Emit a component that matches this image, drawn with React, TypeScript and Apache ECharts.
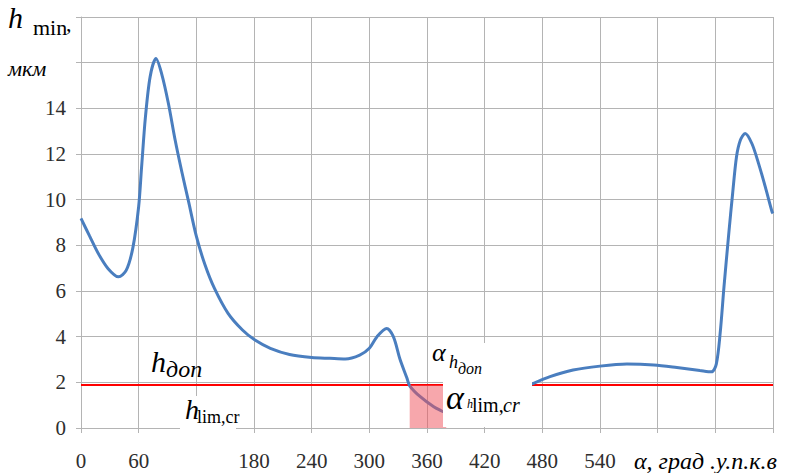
import React, { useEffect, useRef } from "react";
import * as echarts from "echarts";

// Curve before the gap (degrees, µm)
const seg1X = [0, 9, 18, 28, 39, 47, 54, 60, 63, 67, 72, 78, 84, 91, 98, 105, 112, 120, 129, 139, 153, 168, 181, 197, 217, 240, 259, 275, 290, 300, 308, 318, 325, 332, 339, 342, 353, 367, 377];
const seg1Y = [9.18, 8.4, 7.64, 6.99, 6.62, 6.9, 7.9, 9.7, 11.4, 13.6, 15.4, 16.18, 15.5, 14.2, 12.6, 11.2, 9.9, 8.4, 7.15, 6.1, 5.02, 4.29, 3.85, 3.49, 3.22, 3.09, 3.05, 3.02, 3.19, 3.49, 4.0, 4.36, 4.0, 3.0, 2.2, 1.85, 1.37, 0.93, 0.71];
// Curve after the gap
const seg2X = [469, 488, 512, 540, 568, 596, 620, 644, 656, 661, 665, 669, 674, 678, 682, 686, 691, 698, 705, 712, 719, 720];
const seg2Y = [1.92, 2.25, 2.54, 2.71, 2.8, 2.76, 2.65, 2.52, 2.46, 2.8, 4.14, 6.18, 8.52, 10.27, 11.87, 12.6, 12.9, 12.46, 11.58, 10.56, 9.47, 9.4];

const hDop = 1.88; // red limit line
const limLineX = [0, 720];
const pinkRange = [342, 380]; // shaded interval (degrees)

const xTicksHidden = [120, 600, 660, 720];
const yTicksHidden = [16, 18];

const FONT = "Liberation Serif, Tinos, serif";

function txt(x: number, y: number, text: string, size: number, italic: boolean) {
  return {
    type: "text",
    x,
    y,
    z: 101,
    style: {
      text,
      fontSize: size,
      fontFamily: FONT,
      fontStyle: italic ? "italic" : "normal",
      fill: "#000",
      verticalAlign: "middle",
    },
  };
}

function whiteBox(x: number, y: number, w: number, h: number) {
  return { type: "rect", z: 100, shape: { x, y, width: w, height: h }, style: { fill: "#fff" } };
}

export default function App() {
  const ref = useRef<HTMLDivElement>(null);
  useEffect(() => {
    if (!ref.current) return;
    const chart = echarts.init(ref.current, undefined, { renderer: "svg" });
    const gridColor = "#b4b4b4";
    chart.setOption({
      animation: false,
      grid: { left: 81, right: 34, top: 17, bottom: 45 },
      xAxis: {
        type: "value",
        min: 0,
        max: 720,
        interval: 60,
        axisLine: { show: true, lineStyle: { color: gridColor, width: 1 } },
        axisTick: { show: true, length: 5, lineStyle: { color: gridColor } },
        splitLine: { show: true, lineStyle: { color: gridColor, width: 1 } },
        axisLabel: {
          margin: 22,
          fontFamily: FONT,
          fontSize: 21,
          color: "#2e2e2e",
          formatter: (v: number) => (xTicksHidden.includes(v) ? "" : String(v)),
        },
      },
      yAxis: {
        type: "value",
        min: 0,
        max: 18,
        interval: 2,
        axisLine: { show: true, lineStyle: { color: gridColor, width: 1 } },
        axisTick: { show: true, length: 5, lineStyle: { color: gridColor } },
        splitLine: { show: true, lineStyle: { color: gridColor, width: 1 } },
        axisLabel: {
          margin: 15,
          fontFamily: FONT,
          fontSize: 21,
          color: "#2e2e2e",
          formatter: (v: number) => (yTicksHidden.includes(v) ? "" : String(v)),
        },
      },
      series: [
        {
          type: "line",
          name: "hdop",
          data: limLineX.map((x) => [x, hDop]),
          symbol: "none",
          lineStyle: { color: "#ff0000", width: 2 },
          z: 2,
        },
        {
          type: "line",
          data: seg1X.map((x, i) => [x, seg1Y[i]]),
          symbol: "none",
          smooth: 0.3,
          lineStyle: { color: "#4a7ebf", width: 3 },
          z: 3,
        },
        {
          type: "line",
          data: seg2X.map((x, i) => [x, seg2Y[i]]),
          symbol: "none",
          smooth: 0.3,
          lineStyle: { color: "#4a7ebf", width: 3 },
          z: 3,
        },
        {
          type: "custom",
          z: 4,
          data: [[pinkRange[0], 0, pinkRange[1], hDop]],
          renderItem: (params: any, api: any) => {
            const p1 = api.coord([api.value(0), api.value(3)]);
            const p2 = api.coord([api.value(2), api.value(1)]);
            return {
              type: "rect",
              shape: { x: p1[0], y: p1[1], width: p2[0] - p1[0], height: p2[1] - p1[1] },
              style: { fill: "rgba(240,80,90,0.5)" },
            };
          },
        },
      ],
      graphic: [
        whiteBox(180, 396, 56, 44),
        whiteBox(430, 343, 60, 34),
        whiteBox(443, 377, 89, 50),
        // y axis title
        txt(8, 17, "h", 30, true),
        txt(33, 27, "min", 22, false),
        txt(66, 23, ",", 22, false),
        txt(8, 68, "мкм", 22, true),
        // h доп
        txt(151, 361, "h", 30, true),
        txt(166, 369, "доп", 24, true),
        // h lim,cr
        txt(185, 409, "h", 28, true),
        txt(197, 417, "lim,cr", 18, false),
        // alpha h доп
        txt(432, 352, "α", 26, true),
        txt(449, 362, "h", 18, true),
        txt(458, 368, "доп", 16, true),
        // alpha h lim,cr
        txt(446, 397, "α", 34, true),
        txt(467, 404, "h", 12, true),
        txt(472, 405, "lim,", 20, false),
        txt(503, 405, "cr", 20, true),
        // x axis title
        txt(634, 461, "α, град .у.п.к.в", 24, true),
      ],
    });
    return () => chart.dispose();
  }, []);
  return (
    <div
      ref={ref}
      style={{ position: "fixed", left: 0, top: 0, width: 807, height: 473, background: "#fff" }}
    />
  );
}
